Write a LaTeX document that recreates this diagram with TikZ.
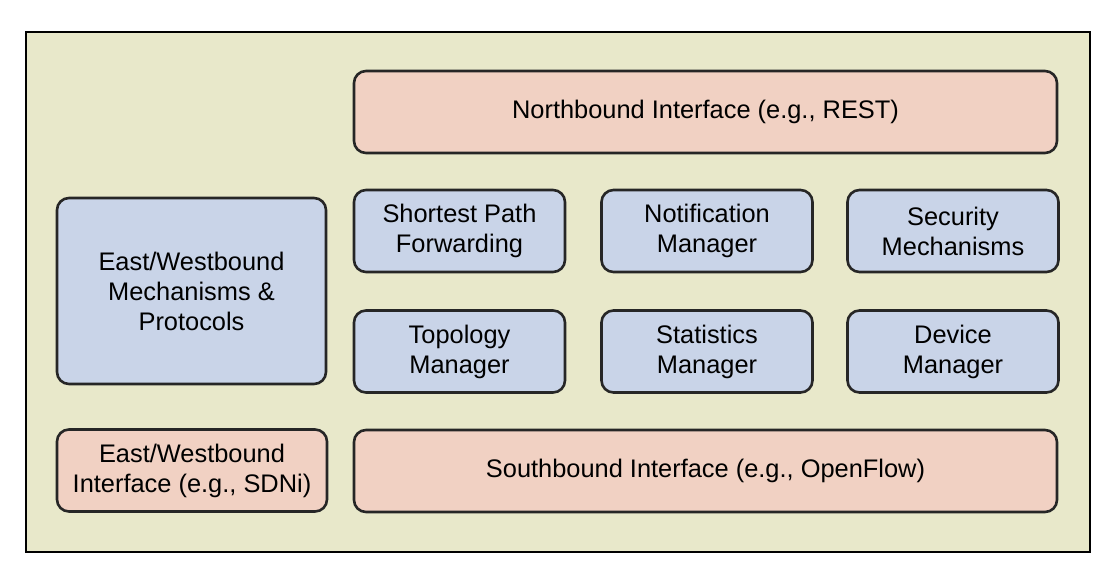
\documentclass[tikz,border=0pt]{standalone}
\usepackage{fontspec}
\setmainfont{Liberation Sans}
\definecolor{panel}{HTML}{E8E8CA}
\definecolor{modblue}{HTML}{C9D4E8}
\definecolor{ifpink}{HTML}{F1D1C3}
\begin{document}
\begin{tikzpicture}[x=0.5pt,y=-0.5pt,
    box/.style={draw=black!85,line width=1.3pt,rounded corners=6pt,align=center,
        font=\fontsize{12.7pt}{15pt}\selectfont,inner sep=0pt},
    module/.style={box,fill=modblue,minimum width=105.5pt,minimum height=41pt},
    iface/.style={box,fill=ifpink,minimum height=41pt}]
        \useasboundingbox (0,0) rectangle (1116,586);
        \draw [fill=panel,line width=1pt] (26,32) rectangle (1090,552); % Controller frame.
        \node [iface,minimum width=351.5pt] (north) at (705.5,112) {Northbound Interface (e.g., REST)};
        \node [module,minimum width=134.5pt,minimum height=93pt] (ewmech) at (191.5,291) {East/Westbound\\Mechanisms \&\\Protocols};

        \node [module] (spf) at (459.5,231) {Shortest Path\\Forwarding};
        \node [module] (notif) at (707,231) {Notification\\Manager};
        \node [module] (sec) at (953,231) {Security\\Mechanisms};
        \node [module] (topo) at (459.5,351.5) {Topology\\Manager};
        \node [module] (stats) at (707,351.5) {Statistics\\Manager};
        \node [module] (dev) at (953,351.5) {Device\\Manager};

        \node [iface,minimum width=135pt] (ewif) at (192,470.5) {East/Westbound\\Interface (e.g., SDNi)};
        \node [iface,minimum width=351.5pt] (south) at (705.5,471) {Southbound Interface (e.g., OpenFlow)};
      \end{tikzpicture}
\end{document}
